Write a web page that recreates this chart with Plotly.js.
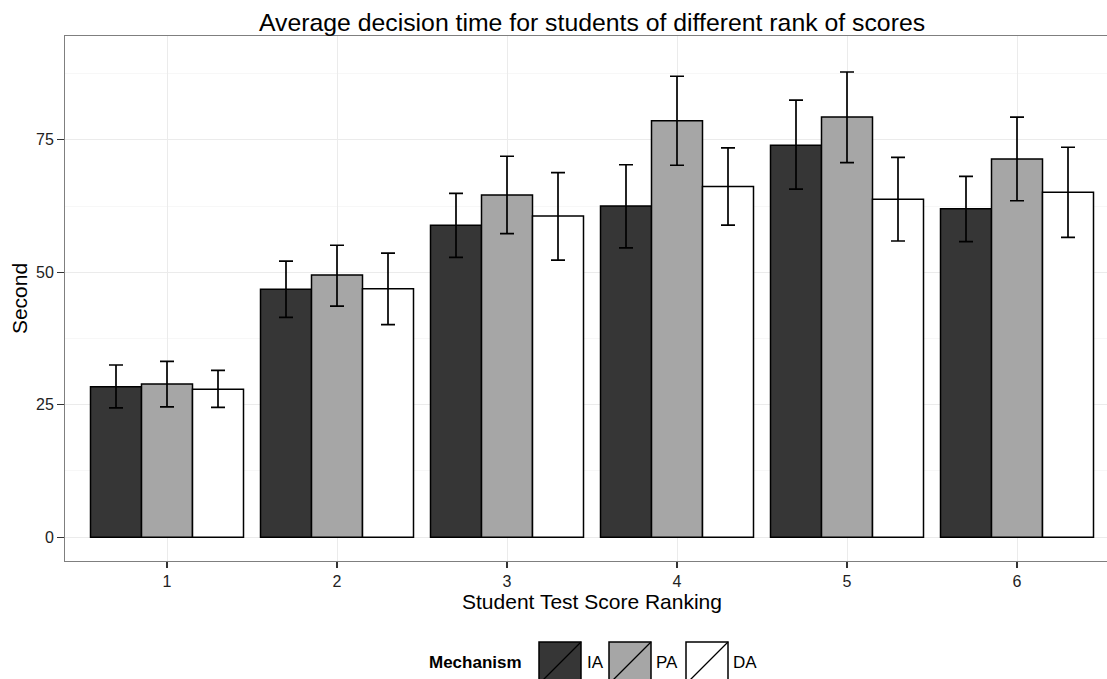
<!DOCTYPE html>
<html>
<head>
<meta charset="utf-8">
<script src="https://cdn.plot.ly/plotly-3.0.1.min.js"></script>
<style>
html, body { margin:0; padding:0; overflow:hidden; background:#fff; }
#chart { width:1125px; height:679px; }
</style>
</head>
<body>
<div id="chart"></div>
<script>
// ---- data ----
const rankings = [1, 2, 3, 4, 5, 6];
const tickLabels = ['1', '2', '3', '4', '5', '6'];
const mechanisms = ['IA', 'PA', 'DA'];

const IA_mean = [28.4, 46.8, 58.9, 62.5, 74.0, 62.0];
const IA_high = [32.5, 52.1, 64.9, 70.3, 82.5, 68.1];
const IA_low  = [24.4, 41.5, 52.8, 54.6, 65.7, 55.8];

const PA_mean = [28.9, 49.5, 64.6, 78.6, 79.3, 71.4];
const PA_high = [33.2, 55.1, 71.9, 87.0, 87.8, 79.3];
const PA_low  = [24.6, 43.6, 57.3, 70.2, 70.7, 63.5];

const DA_mean = [27.9, 46.9, 60.6, 66.2, 63.8, 65.1];
const DA_high = [31.5, 53.6, 68.8, 73.5, 71.7, 73.6];
const DA_low  = [24.5, 40.1, 52.3, 58.9, 55.9, 56.6];

const yTicks = [0, 25, 50, 75];

// ---- styling ----
const fills = {IA: '#363636', PA: '#a6a6a6', DA: '#ffffff'};
const FONT = 'Liberation Sans, Arial, Helvetica, sans-serif';

const series = {
  IA: {mean: IA_mean, high: IA_high, low: IA_low},
  PA: {mean: PA_mean, high: PA_high, low: PA_low},
  DA: {mean: DA_mean, high: DA_high, low: DA_low}
};

const traces = mechanisms.map(m => {
  const s = series[m];
  return {
    type: 'bar',
    name: m,
    x: rankings,
    y: s.mean,
    marker: {color: fills[m], line: {color: '#000', width: 1.5}},
    error_y: {
      type: 'data', symmetric: false,
      array: s.high.map((h, i) => h - s.mean[i]),
      arrayminus: s.mean.map((v, i) => v - s.low[i]),
      color: '#000', thickness: 1.7, width: 7
    },
    showlegend: false,
    hoverinfo: 'x+y'
  };
});

// plot-area geometry (px) for the hand-drawn legend
const M = {l: 65, r: 6, t: 36, b: 118};
const W = 1125, H = 679;
const PW = W - M.l - M.r, PH = H - M.t - M.b;
const px = x => (x - M.l) / PW;
const py = y => (H - M.b - y) / PH;

const keys = [
  {m: 'IA', x0: 539, lx: 585},
  {m: 'PA', x0: 609, lx: 654},
  {m: 'DA', x0: 686, lx: 731}
];
const keyTop = 642, keySize = 42;

const shapes = [];
const annotations = [{
  xref: 'paper', yref: 'paper', x: px(427), y: py(662), xanchor: 'left', yanchor: 'middle',
  text: '<b>Mechanism</b>', showarrow: false, font: {family: FONT, size: 17, color: '#000'}
}];
keys.forEach(k => {
  shapes.push({
    type: 'rect', xref: 'paper', yref: 'paper',
    x0: px(k.x0), x1: px(k.x0 + keySize), y0: py(keyTop), y1: py(keyTop + keySize),
    fillcolor: fills[k.m], line: {color: '#000', width: 1.5}
  });
  shapes.push({
    type: 'line', xref: 'paper', yref: 'paper',
    x0: px(k.x0), x1: px(k.x0 + keySize), y0: py(keyTop + keySize), y1: py(keyTop),
    line: {color: '#000', width: 1.3}
  });
  annotations.push({
    xref: 'paper', yref: 'paper', x: px(k.lx), y: py(662), xanchor: 'left', yanchor: 'middle',
    text: k.m, showarrow: false, font: {family: FONT, size: 17, color: '#000'}
  });
});

const layout = {
  width: W, height: H,
  margin: M,
  paper_bgcolor: '#fff', plot_bgcolor: '#fff',
  barmode: 'group', bargap: 0.1, bargroupgap: 0,
  font: {family: FONT, color: '#000'},
  title: {
    text: 'Average decision time for students of different rank of scores',
    font: {family: FONT, size: 24.8, color: '#000'},
    xref: 'paper', x: 0.5, xanchor: 'center',
    yref: 'container', y: 1 - 22 / H, yanchor: 'middle'
  },
  xaxis: {
    range: [0.4, 6.6],
    tickvals: rankings, ticktext: tickLabels,
    ticks: 'outside', ticklen: 6, tickwidth: 1.2, tickcolor: '#333',
    tickfont: {family: FONT, size: 16, color: '#222'},
    showgrid: true, gridcolor: '#ebebeb', gridwidth: 1,
    showline: true, linecolor: '#7f7f7f', linewidth: 1, mirror: true,
    zeroline: false,
    title: {text: 'Student Test Score Ranking', font: {family: FONT, size: 21, color: '#000'}, standoff: 4}
  },
  yaxis: {
    range: [-4.5, 94.6],
    tickvals: yTicks, ticktext: yTicks.map(String),
    ticks: 'outside', ticklen: 7, tickwidth: 1.2, tickcolor: '#333',
    tickfont: {family: FONT, size: 16, color: '#222'},
    showgrid: true, gridcolor: '#ebebeb', gridwidth: 1,
    minor: {tickvals: [12.5, 37.5, 62.5, 87.5], showgrid: true, gridcolor: '#f7f7f7', gridwidth: 1, ticks: ''},
    showline: true, linecolor: '#7f7f7f', linewidth: 1, mirror: true,
    zeroline: false,
    title: {text: 'Second', font: {family: FONT, size: 21, color: '#000'}, standoff: 2}
  },
  shapes: shapes,
  annotations: annotations,
  showlegend: false
};

Plotly.newPlot('chart', traces, layout, {displayModeBar: false, staticPlot: true});
</script>
</body>
</html>
